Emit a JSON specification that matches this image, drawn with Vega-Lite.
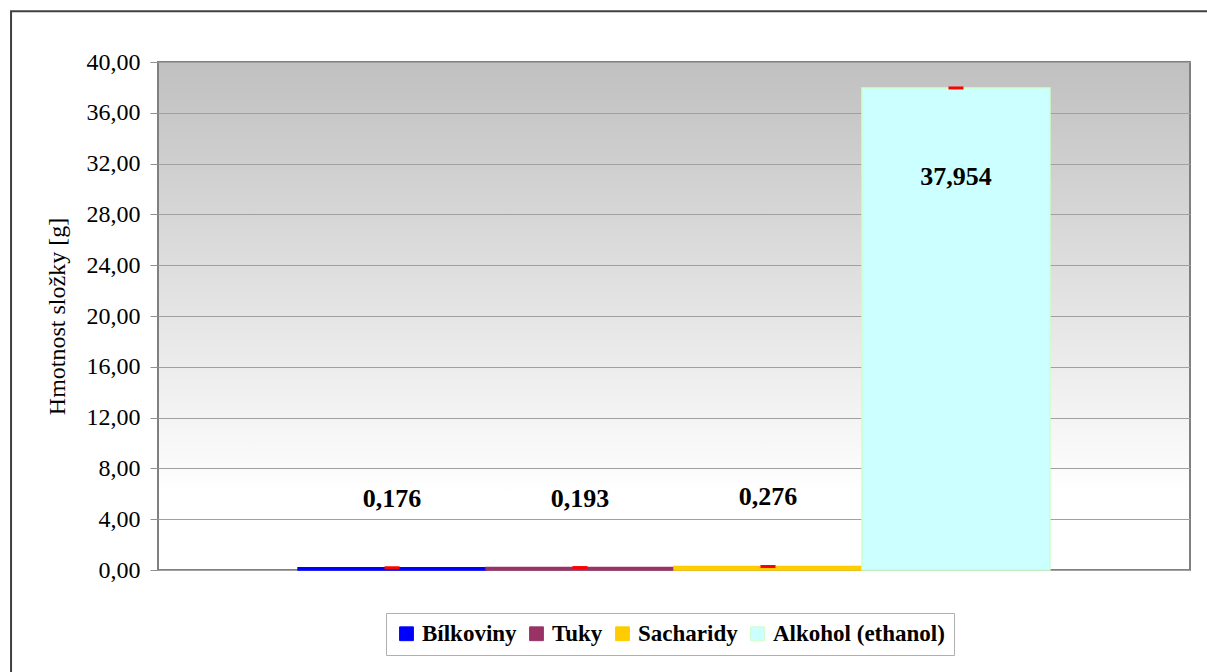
{
  "$schema": "https://vega.github.io/schema/vega-lite/v6.json",
  "width": 1032,
  "height": 508,
  "autosize": {"type": "none"},
  "padding": {"left": 158, "top": 62, "right": 17, "bottom": 102},
  "background": "white",
  "data": {
    "values": [
      {"slozka": "Bílkoviny", "hodnota": 0.176},
      {"slozka": "Tuky", "hodnota": 0.193},
      {"slozka": "Sacharidy", "hodnota": 0.276},
      {"slozka": "Alkohol (ethanol)", "hodnota": 37.954}
    ]
  },
  "resolve": {"scale": {"x": "independent"}},
  "layer": [
    {
      "mark": {"type": "bar", "strokeWidth": 1.5},
      "encoding": {
        "x": {
          "field": "slozka",
          "type": "nominal",
          "sort": null,
          "scale": {"type": "band", "domain": ["Bílkoviny", "Tuky", "Sacharidy", "Alkohol (ethanol)"], "paddingInner": 0, "paddingOuter": 0.745},
          "axis": null
        },
        "y": {
          "field": "hodnota",
          "type": "quantitative",
          "scale": {"domain": [0, 40], "nice": false},
          "axis": {
            "values": [0, 4, 8, 12, 16, 20, 24, 28, 32, 36, 40],
            "format": ".2f",
            "title": "Hmotnost složky [g]",
            "titleFont": "Liberation Serif",
            "titleFontSize": 24,
            "titleFontWeight": "normal",
            "titleColor": "black",
            "titlePadding": 17,
            "labelFont": "Liberation Serif",
            "labelFontSize": 24,
            "labelColor": "black",
            "labelPadding": 10,
            "tickSize": 8,
            "tickColor": "#909090",
            "domain": false,
            "grid": true,
            "gridColor": "#a0a0a0",
            "gridWidth": 1
          }
        },
        "fill": {
          "field": "slozka",
          "type": "nominal",
          "sort": null,
          "scale": {
            "domain": ["Bílkoviny", "Tuky", "Sacharidy", "Alkohol (ethanol)"],
            "range": ["#0000ff", "#993366", "#ffcc00", "#ccffff"]
          },
          "legend": {
            "title": null,
            "orient": "none",
            "legendX": 228,
            "legendY": 551,
            "direction": "horizontal",
            "symbolType": "square",
            "symbolSize": 190,
            "symbolStrokeWidth": 1,
            "labelFont": "Liberation Serif",
            "labelFontWeight": "bold",
            "labelFontSize": 23,
            "labelColor": "black",
            "labelLimit": 400,
            "columnPadding": 8,
            "padding": 9,
            "strokeColor": "#b0b0b0",
            "fillColor": "white"
          }
        },
        "stroke": {
          "field": "slozka",
          "type": "nominal",
          "sort": null,
          "scale": {
            "domain": ["Bílkoviny", "Tuky", "Sacharidy", "Alkohol (ethanol)"],
            "range": ["#0000ff", "#993366", "#ffcc00", "#ccffcc"]
          },
          "legend": {
            "title": null,
            "orient": "none",
            "legendX": 228,
            "legendY": 551,
            "direction": "horizontal",
            "symbolType": "square",
            "symbolSize": 190,
            "labelFont": "Liberation Serif",
            "labelFontWeight": "bold",
            "labelFontSize": 23,
            "labelColor": "black",
            "labelLimit": 400,
            "columnPadding": 8,
            "padding": 9,
            "strokeColor": "#b0b0b0",
            "fillColor": "white"
          }
        }
      }
    },
    {
      "mark": {"type": "tick", "color": "#ff0000", "size": 15, "thickness": 3, "opacity": 1},
      "encoding": {
        "x": {"field": "slozka", "type": "nominal", "sort": null, "scale": {"type": "band", "domain": ["Bílkoviny", "Tuky", "Sacharidy", "Alkohol (ethanol)"], "paddingInner": 0, "paddingOuter": 0.745}, "axis": null},
        "y": {"field": "hodnota", "type": "quantitative"}
      }
    },
    {
      "transform": [{"filter": "datum.hodnota < 10"}],
      "mark": {"type": "text", "font": "Liberation Serif", "fontWeight": "bold", "fontSize": 26, "color": "black", "baseline": "middle", "dy": -69},
      "encoding": {
        "x": {"field": "slozka", "type": "nominal", "sort": null, "scale": {"type": "band", "domain": ["Bílkoviny", "Tuky", "Sacharidy", "Alkohol (ethanol)"], "paddingInner": 0, "paddingOuter": 0.745}, "axis": null},
        "y": {"field": "hodnota", "type": "quantitative"},
        "text": {"field": "hodnota", "type": "quantitative", "format": ".3f"}
      }
    },
    {
      "transform": [{"filter": "datum.hodnota >= 10"}],
      "mark": {"type": "text", "font": "Liberation Serif", "fontWeight": "bold", "fontSize": 26, "color": "black", "baseline": "middle", "dy": 89},
      "encoding": {
        "x": {"field": "slozka", "type": "nominal", "sort": null, "scale": {"type": "band", "domain": ["Bílkoviny", "Tuky", "Sacharidy", "Alkohol (ethanol)"], "paddingInner": 0, "paddingOuter": 0.745}, "axis": null},
        "y": {"field": "hodnota", "type": "quantitative"},
        "text": {"field": "hodnota", "type": "quantitative", "format": ".3f"}
      }
    },
    {
      "data": {"values": [{"ramec": "okraj"}]},
      "mark": {"type": "rect", "fill": null, "filled": false, "stroke": "#404040", "strokeWidth": 2, "clip": false},
      "encoding": {
        "x": {"datum": -0.1424, "type": "quantitative", "scale": {"domain": [0, 1], "nice": false, "zero": false}, "axis": null},
        "x2": {"datum": 1.03},
        "y": {"datum": 44.0},
        "y2": {"datum": -12}
      }
    }
  ],
  "config": {
    "locale": {
      "number": {"decimal": ",", "thousands": " ", "grouping": [3], "currency": ["", " Kč"]}
    },
    "view": {
      "stroke": "#808080",
      "strokeWidth": 2,
      "fill": {
        "gradient": "linear",
        "x1": 0, "y1": 0, "x2": 0, "y2": 1,
        "stops": [
          {"offset": 0, "color": "#c0c0c0"},
          {"offset": 0.85, "color": "#ffffff"},
          {"offset": 1, "color": "#ffffff"}
        ]
      }
    },
    "axis": {"zindex": 0}
  }
}
